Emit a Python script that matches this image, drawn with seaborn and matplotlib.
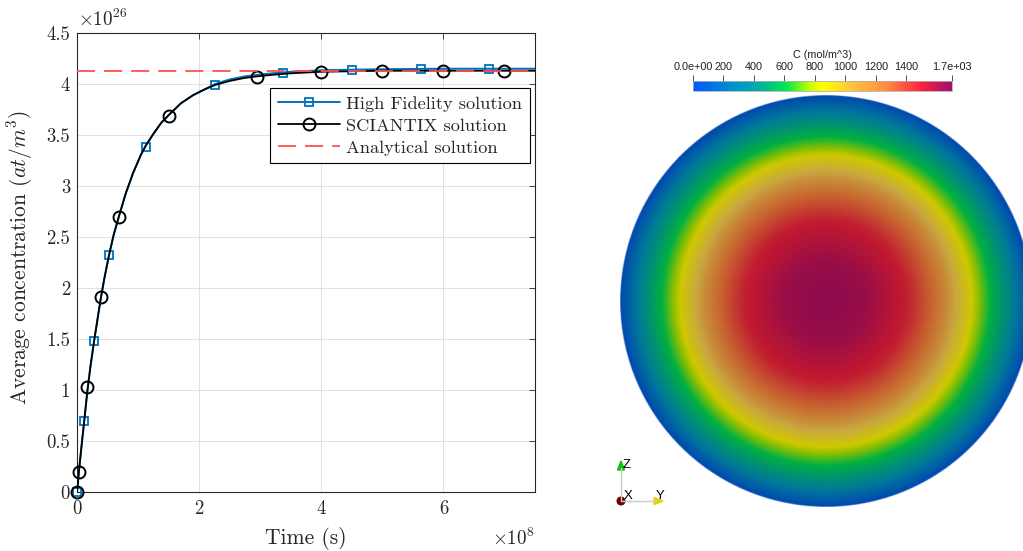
import numpy as np
import matplotlib
matplotlib.use("Agg")
import matplotlib.pyplot as plt
import seaborn as sns
from matplotlib.lines import Line2D
from matplotlib.colors import LinearSegmentedColormap, Normalize
from matplotlib.cm import ScalarMappable
from matplotlib.patches import Polygon, Circle

# ---------------- data (time in 1e8 s, concentration in 1e26 at/m^3) ----------------
t_hf = [0, 0.12, 0.28, 0.52, 1.13, 2.26, 3.38, 4.50, 5.63, 6.75]
c_hf = [0, 0.70, 1.48, 2.32, 3.38, 3.99, 4.11, 4.14, 4.15, 4.15]

t_sc = [0, 0.03, 0.17, 0.39, 0.69, 1.51, 2.95, 4.0, 5.0, 6.0, 7.0]
c_sc = [0, 0.196, 1.03, 1.91, 2.70, 3.69, 4.07, 4.12, 4.13, 4.13, 4.13]

# solid curves
t_curve = [0, 0.03, 0.06, 0.09, 0.12, 0.17, 0.22, 0.28, 0.34, 0.39, 0.45, 0.52,
           0.60, 0.69, 0.80, 0.92, 1.05, 1.13, 1.25, 1.38, 1.51, 1.70, 1.90, 2.10,
           2.26, 2.50, 2.75, 2.95, 3.20, 3.50, 4.00, 4.50, 5.00, 6.00, 7.00, 7.50]
c_curve_sc = [0, 0.19, 0.37, 0.54, 0.706, 0.99, 1.23, 1.48, 1.71, 1.90, 2.10, 2.31,
              2.52, 2.71, 2.93, 3.13, 3.31, 3.40, 3.51, 3.62, 3.70, 3.81, 3.89, 3.95,
              3.99, 4.03, 4.06, 4.075, 4.09, 4.105, 4.12, 4.125, 4.13, 4.13, 4.13, 4.13]
c_curve_hf = [0, 0.19, 0.37, 0.54, 0.706, 0.99, 1.23, 1.48, 1.71, 1.90, 2.10, 2.31,
              2.52, 2.71, 2.93, 3.13, 3.31, 3.40, 3.51, 3.62, 3.70, 3.81, 3.89, 3.95,
              4.00, 4.045, 4.075, 4.09, 4.105, 4.12, 4.135, 4.14, 4.145, 4.15, 4.15, 4.15]
c_analytical = 4.127

x_ticks = [0, 2, 4, 6]
y_ticks = [0, 0.5, 1, 1.5, 2, 2.5, 3, 3.5, 4, 4.5]
labels = ["High Fidelity solution", "SCIANTIX solution", "Analytical solution"]

# radial profile of the 2D field (r / R, C in mol/m^3)
r_prof = [0, 0.2, 0.4, 0.6, 0.7, 0.8, 0.9, 1.0]
c_prof = [1700, 1630, 1430, 1090, 870, 610, 320, 0]
cb_ticks = [0, 200, 400, 600, 800, 1000, 1200, 1400, 1700]
cb_labels = ["0.0e+00", "200", "400", "600", "800", "1000", "1200", "1400", "1.7e+03"]

# ---------------- style ----------------
sns.set_theme(style="white")
plt.rcParams["font.family"] = ["cmr10", "DejaVu Serif"]
plt.rcParams["mathtext.fontset"] = "cm"
plt.rcParams["axes.unicode_minus"] = False
plt.rcParams["axes.formatter.use_mathtext"] = True

W, H = 1023, 551
fig = plt.figure(figsize=(W / 100, H / 100), dpi=100)
fig.patch.set_facecolor("white")

BLUE = "#0072BD"
RED = "#FF4F4F"
DARK = "#262626"

# ---------------- left plot ----------------
L, R_, T, B = 77, 535, 33, 492
ax = fig.add_axes([L / W, 1 - B / H, (R_ - L) / W, (B - T) / H])

sns.lineplot(x=t_curve, y=c_curve_hf, ax=ax, color=BLUE, lw=1.4, sort=False,
             estimator=None, legend=False, zorder=3)
ax.plot(t_hf, c_hf, ls="none", marker="s", mfc="none", mec=BLUE, ms=6.2, mew=1.3,
        zorder=4, clip_on=False)
sns.lineplot(x=t_curve, y=c_curve_sc, ax=ax, color="black", lw=1.3, sort=False,
             estimator=None, legend=False, zorder=5)
ax.plot(t_sc, c_sc, ls="none", marker="o", mfc="none", mec="black", ms=8.6, mew=1.4,
        zorder=6, clip_on=False)
ax.axhline(c_analytical, color=RED, lw=1.3, dashes=(10, 5), zorder=7)

ax.set_xlim(0, 7.5)
ax.set_ylim(0, 4.5)
ax.set_xticks(x_ticks)
ax.set_xticklabels([f"{v:g}" for v in x_ticks])
ax.set_yticks(y_ticks)
ax.set_yticklabels([f"{v:g}" for v in y_ticks])
ax.tick_params(direction="in", length=4, width=0.6, top=True, right=True,
               labelsize=13.5, colors=DARK, pad=6)
ax.tick_params(axis="y", pad=5)
for s in ax.spines.values():
    s.set_color(DARK)
    s.set_linewidth(0.8)
ax.grid(True, color="#DCDCDC", lw=0.6)
ax.set_axisbelow(True)

ax.set_xlabel("Time (s)", fontsize=15.5, color=DARK)
ax.xaxis.set_label_coords(0.5, (B - 538) / (B - T))
ax.xaxis.label.set_va("center")
ax.set_ylabel(r"Average concentration $(at/m^3)$", fontsize=15.5, color=DARK)
ax.yaxis.set_label_coords((20 - L) / (R_ - L), (B - 258) / (B - T))
ax.yaxis.label.set_va("center")

fig.text(78 / W, 1 - 26 / H, r"$\times10^{26}$", fontsize=13.8, color=DARK,
         ha="left", va="baseline")
fig.text(535 / W, 1 - 545 / H, r"$\times10^{8}$", fontsize=13.8, color=DARK,
         ha="right", va="baseline")

handles = [
    Line2D([], [], color=BLUE, lw=1.4, marker="s", mfc="none", mec=BLUE, ms=6.2, mew=1.3),
    Line2D([], [], color="black", lw=1.3, marker="o", mfc="none", mec="black", ms=8.6, mew=1.4),
    Line2D([], [], color=RED, lw=1.3, dashes=(10, 5)),
]
leg = ax.legend(handles, labels, loc="upper right",
                bbox_to_anchor=((530 - L) / (R_ - L), (B - 88) / (B - T)),
                fontsize=13.2, frameon=True, fancybox=False, edgecolor="black",
                framealpha=1, handlelength=3.4, handletextpad=0.35,
                labelspacing=0.34, borderpad=0.42, borderaxespad=0)
leg.get_frame().set_linewidth(0.8)

# ---------------- right panel (field render) ----------------
ov = fig.add_axes([0, 0, 1, 1], zorder=-1)
ov.set_xlim(0, W)
ov.set_ylim(H, 0)
ov.axis("off")

disk_cmap = LinearSegmentedColormap.from_list("disk", [
    (0.00, "#0048B0"), (0.15, "#00789A"), (0.25, "#009074"), (0.36, "#00B040"),
    (0.45, "#90C000"), (0.50, "#D0C800"), (0.60, "#C8A840"), (0.72, "#C86830"),
    (0.86, "#C01830"), (1.00, "#8C0A50")])
bar_cmap = LinearSegmentedColormap.from_list("bar", [
    (0.00, "#0058FF"), (0.15, "#0090D0"), (0.25, "#00AEA4"), (0.36, "#00E850"),
    (0.45, "#C0FF00"), (0.50, "#FFFF00"), (0.62, "#FFC040"), (0.75, "#FF8C40"),
    (0.88, "#FF2040"), (1.00, "#A0106A")])

cx, cy, Rd = 826, 301, 206
n = 700
g = np.linspace(-1, 1, n)
X, Y = np.meshgrid(g, g)
rr = np.hypot(X, Y)
val = np.interp(rr, r_prof, c_prof) / 1700.0
rgba = disk_cmap(val)
rgba[..., 3] = np.clip((1 - rr) * Rd + 0.5, 0, 1)
ov.imshow(rgba, extent=(cx - Rd, cx + Rd, cy + Rd, cy - Rd), interpolation="bilinear")

# orientation triad
ox, oy = 621, 501
ov.plot([ox, ox], [oy, 468], color="#C8D0C0", lw=1.0)
ov.plot([ox, 656], [oy, oy], color="#C8D0C0", lw=1.0)
ov.add_patch(Polygon([[ox - 3.5, 470], [ox + 3.5, 470], [ox, 461]], closed=True,
                     color="#10C010"))
ov.add_patch(Polygon([[654, oy - 3.5], [654, oy + 3.5], [663, oy]], closed=True,
                     color="#E8D000"))
ov.add_patch(Circle((ox, oy), 3.8, color="#6B0000"))
sans = ["Liberation Sans", "DejaVu Sans"]
ov.text(623, 465, "Z", fontsize=9.5, family=sans, color="black", ha="left", va="center")
ov.text(624, 496, "X", fontsize=9.5, family=sans, color="black", ha="left", va="center")
ov.text(656, 496, "Y", fontsize=9.5, family=sans, color="black", ha="left", va="center")

# colorbar
cax = fig.add_axes([693 / W, 1 - 91 / H, 259 / W, 10 / H])
cb = fig.colorbar(ScalarMappable(norm=Normalize(0, 1700), cmap=bar_cmap), cax=cax,
                  orientation="horizontal", ticklocation="top")
cb.set_ticks(cb_ticks)
cb.set_ticklabels(cb_labels)
cax.tick_params(axis="x", direction="out", length=4.5, width=0.7, colors="#505050",
                labelsize=7.8, pad=1.8, labelcolor="#202020")
for lab in cax.get_xticklabels():
    lab.set_family(sans)
cb.outline.set_edgecolor("#B0B0B0")
cb.outline.set_linewidth(0.6)
fig.text(822 / W, 1 - 55 / H, "C (mol/m^3)", fontsize=7.8, family=sans, color="#202020",
         ha="center", va="center")

fig.savefig("out.png", dpi=100, facecolor="white")
